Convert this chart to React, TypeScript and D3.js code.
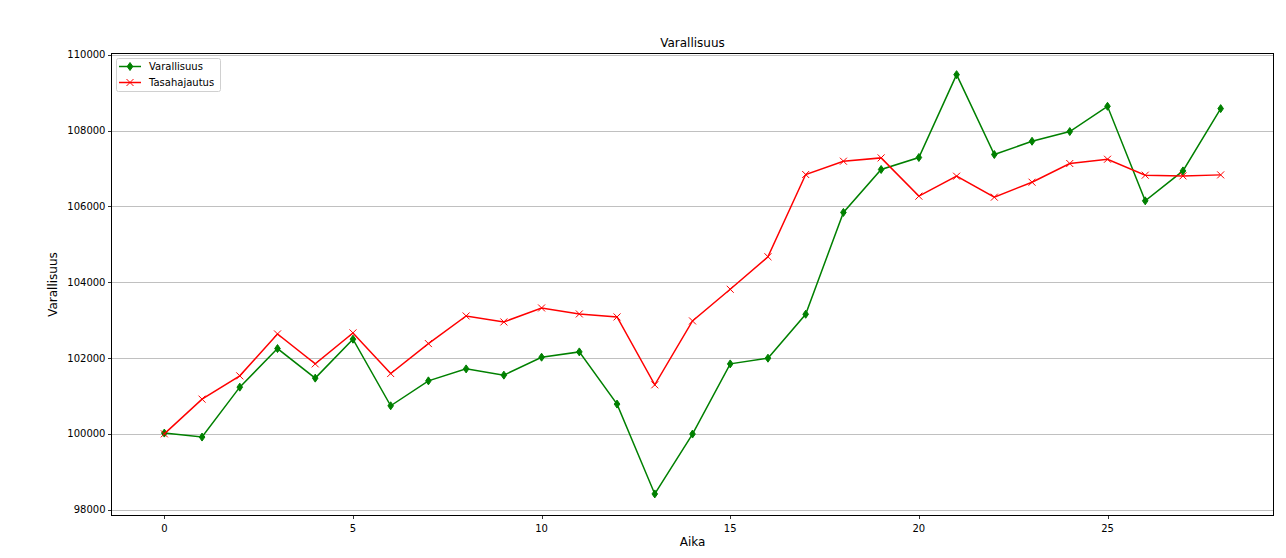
import React from "react";
import * as d3 from "d3";

const times = d3.range(0, 29);
const varallisuus = [
  100020, 99915, 101232, 102250, 101470, 102497, 100740, 101398, 101714, 101549,
  102022, 102162, 100785, 98415, 99995, 101846, 101996, 103155, 105841, 106974,
  107290, 109476, 107369, 107719, 107975, 108641, 106147, 106937, 108580,
];
const tasahajautus = [
  100000, 100916, 101530, 102636, 101846, 102663, 101591, 102381, 103110, 102952,
  103321, 103163, 103084, 101293, 102979, 103814, 104672, 106842, 107193, 107280,
  106271, 106797, 106244, 106639, 107132, 107245, 106824, 106805, 106832,
];
const yTicks = [98000, 100000, 102000, 104000, 106000, 108000, 110000];
const xTicks = [0, 5, 10, 15, 20, 25];

const W = 1286;
const H = 558;
const L = 111.5;
const R = 1273.5;
const T = 53.5;
const B = 515.5;
const FONT = "DejaVu Sans, sans-serif";

export default function App() {
  const x = d3.scaleLinear().domain([-1.4, 29.4]).range([L, R]);
  const y = d3.scaleLinear().domain([97846, 110034]).range([B, T]);
  const line = d3
    .line<number>()
    .x((_, i) => x(times[i]))
    .y((d) => y(d));

  const diamond = (cx: number, cy: number, key: string) => (
    <path
      key={key}
      d={`M${cx},${cy - 4} L${cx + 2.8},${cy} L${cx},${cy + 4} L${cx - 2.8},${cy} Z`}
      fill="green"
      stroke="green"
      strokeWidth={1}
    />
  );
  const cross = (cx: number, cy: number, key: string) => (
    <path
      key={key}
      d={`M${cx - 3.5},${cy - 3.5} L${cx + 3.5},${cy + 3.5} M${cx - 3.5},${cy + 3.5} L${cx + 3.5},${cy - 3.5}`}
      stroke="red"
      strokeWidth={1}
      fill="none"
    />
  );

  return (
    <svg
      width={W}
      height={H}
      style={{ position: "absolute", left: 0, top: 0, background: "white" }}
      fontFamily={FONT}
    >
      <rect x={0} y={0} width={W} height={H} fill="white" />
      {/* grid */}
      {yTicks.map((t) => (
        <line
          key={"g" + t}
          x1={L}
          x2={R}
          y1={Math.round(y(t)) + 0.5}
          y2={Math.round(y(t)) + 0.5}
          stroke="#b0b0b0"
          strokeWidth={0.8}
        />
      ))}
      {/* series */}
      <path d={line(varallisuus) || ""} fill="none" stroke="green" strokeWidth={1.5} />
      {varallisuus.map((v, i) => diamond(x(times[i]), y(v), "d" + i))}
      <path d={line(tasahajautus) || ""} fill="none" stroke="red" strokeWidth={1.5} />
      {tasahajautus.map((v, i) => cross(x(times[i]), y(v), "c" + i))}
      {/* frame */}
      <rect x={L} y={T} width={R - L} height={B - T} fill="none" stroke="black" strokeWidth={1} />
      {/* y ticks */}
      {yTicks.map((t) => (
        <g key={"y" + t}>
          <line x1={L - 3.5} x2={L} y1={Math.round(y(t)) + 0.5} y2={Math.round(y(t)) + 0.5} stroke="black" strokeWidth={0.8} />
          <text x={L - 6} y={y(t)} dy="0.35em" textAnchor="end" fontSize={10} fill="black">
            {t}
          </text>
        </g>
      ))}
      {/* x ticks */}
      {xTicks.map((t) => (
        <g key={"x" + t}>
          <line x1={Math.round(x(t)) + 0.5} x2={Math.round(x(t)) + 0.5} y1={B} y2={B + 3.5} stroke="black" strokeWidth={0.8} />
          <text x={x(t)} y={B + 16} textAnchor="middle" fontSize={10} fill="black">
            {t}
          </text>
        </g>
      ))}
      {/* labels */}
      <text x={(L + R) / 2} y={47} textAnchor="middle" fontSize={12} fill="black">
        Varallisuus
      </text>
      <text x={(L + R) / 2} y={546} textAnchor="middle" fontSize={12} fill="black">
        Aika
      </text>
      <text
        transform={`translate(57,${(T + B) / 2}) rotate(-90)`}
        textAnchor="middle"
        fontSize={12}
        fill="black"
      >
        Varallisuus
      </text>
      {/* legend */}
      <g>
        <rect x={116.5} y={58.5} width={104} height={33} rx={2} fill="white" fillOpacity={0.8} stroke="#d0d0d0" strokeWidth={1} />
        <line x1={119} x2={141} y1={66.5} y2={66.5} stroke="green" strokeWidth={1.5} />
        {diamond(130, 66.5, "ld")}
        <text x={149} y={66.5} dy="0.35em" fontSize={10} fill="black">
          Varallisuus
        </text>
        <line x1={119} x2={141} y1={82.5} y2={82.5} stroke="red" strokeWidth={1.5} />
        {cross(130, 82.5, "lc")}
        <text x={149} y={82.5} dy="0.35em" fontSize={10} fill="black">
          Tasahajautus
        </text>
      </g>
    </svg>
  );
}
